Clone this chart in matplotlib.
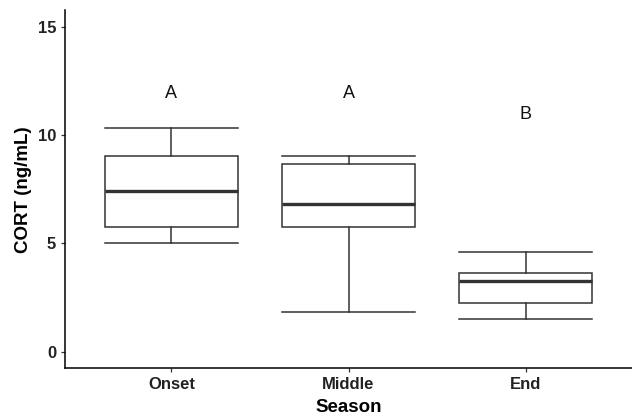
import matplotlib
matplotlib.use("Agg")
import matplotlib.pyplot as plt

# valores
seasons = ["Onset", "Middle", "End"]
whislo = [5.0, 1.85, 1.52]
q1 = [5.74, 5.77, 2.26]
med = [7.40, 6.80, 3.26]
q3 = [9.03, 8.65, 3.65]
whishi = [10.34, 9.03, 4.62]
letters = ["A", "A", "B"]
letter_y = [11.93, 11.93, 10.96]

plt.rcParams["font.family"] = ["Liberation Sans", "DejaVu Sans"]

fig = plt.figure(figsize=(6.32, 4.2), dpi=100)
ax = fig.add_axes([0.103, 0.123, 0.897, 0.853])

stats = []
for i, s in enumerate(seasons):
    stats.append({"label": s, "whislo": whislo[i], "q1": q1[i], "med": med[i],
                  "q3": q3[i], "whishi": whishi[i], "fliers": []})

pos = list(range(1, len(seasons) + 1))
ax.bxp(stats, positions=pos, widths=0.75, capwidths=0.75, showfliers=False,
       patch_artist=True,
       boxprops=dict(facecolor="white", edgecolor="#333333", linewidth=1.1),
       whiskerprops=dict(color="#333333", linewidth=1.1),
       capprops=dict(color="#333333", linewidth=1.1),
       medianprops=dict(color="#333333", linewidth=2.4))

for p, l, y in zip(pos, letters, letter_y):
    ax.text(p, y, l, ha="center", va="center", fontsize=13, color="#111111")

ax.set_xlim(0.4, 3.6)
ax.set_ylim(-0.77, 15.77)
ax.set_yticks([0, 5, 10, 15])
ax.set_xticks(pos)
ax.set_xticklabels(seasons)

for sp in ["top", "right"]:
    ax.spines[sp].set_visible(False)
for sp in ["left", "bottom"]:
    ax.spines[sp].set_linewidth(1.1)
    ax.spines[sp].set_color("black")

ax.tick_params(axis="both", labelsize=12, colors="#333333", length=3, width=0.9)
for t in ax.get_xticklabels() + ax.get_yticklabels():
    t.set_fontweight("bold")
    t.set_color("#222222")

ax.set_xlabel("Season", fontsize=13.5, fontweight="bold", labelpad=5)
ax.set_ylabel("CORT (ng/mL)", fontsize=13.5, fontweight="bold", labelpad=4)

fig.savefig("out.png", dpi=100)
